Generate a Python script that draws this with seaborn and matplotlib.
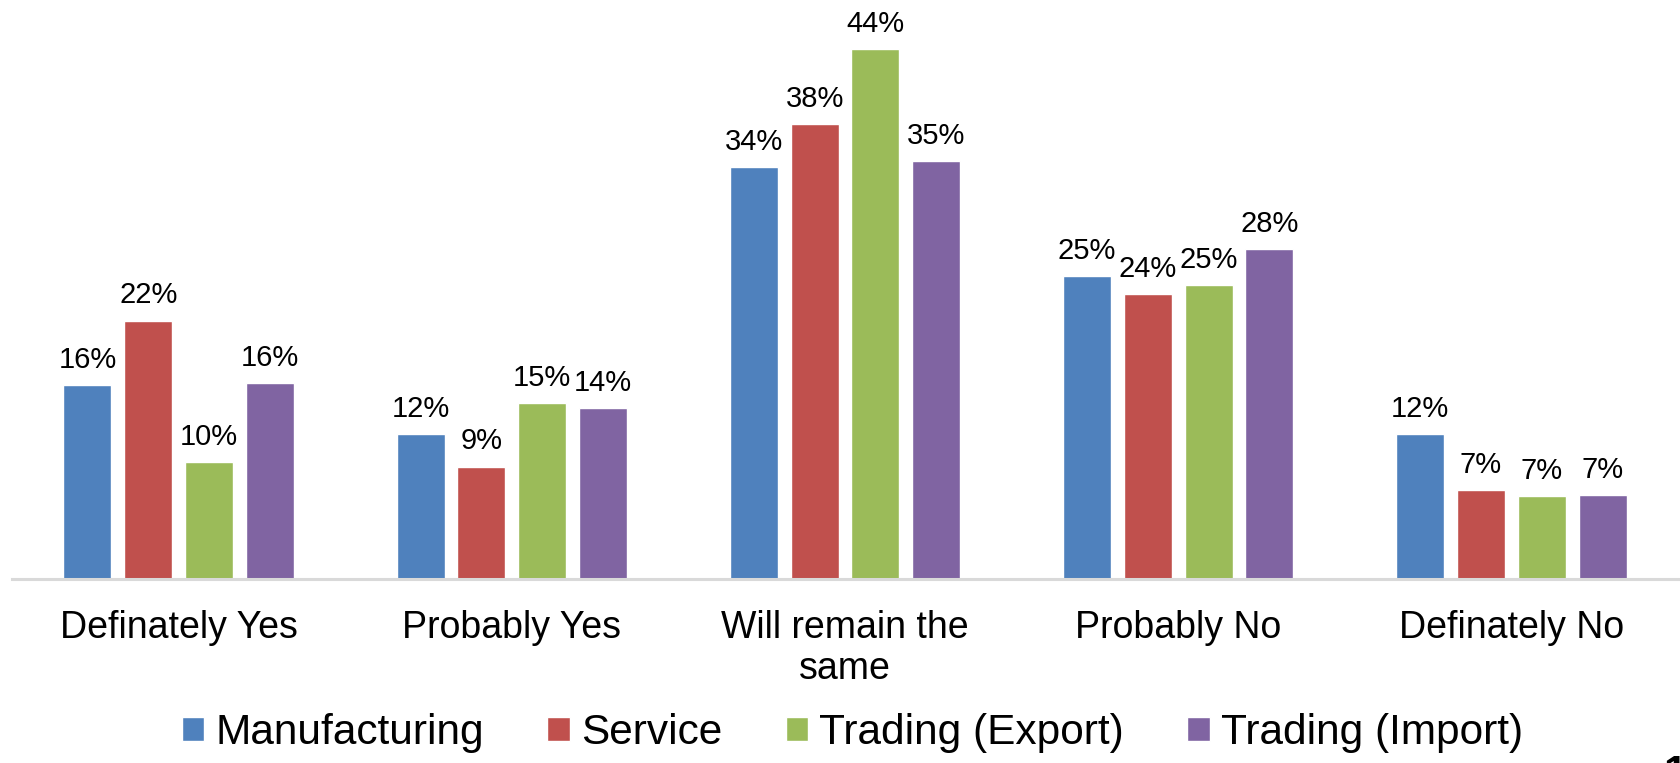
import numpy as np
import pandas as pd
import matplotlib
matplotlib.use("Agg")
import matplotlib.pyplot as plt
import seaborn as sns

# datos del grafico
categorias = ["Definately Yes", "Probably Yes", "Will remain the\nsame", "Probably No", "Definately No"]
sectores = ["Manufacturing", "Service", "Trading (Export)", "Trading (Import)"]
manufacturing = [16.2, 12.1, 34.4, 25.3, 12.1]
service = [21.6, 9.4, 38.0, 23.8, 7.4]
trading_export = [9.8, 14.7, 44.3, 24.6, 6.9]
trading_import = [16.4, 14.3, 34.9, 27.6, 7.0]
colores = ["#4F81BD", "#C0504D", "#9BBB59", "#8064A2"]

series = [manufacturing, service, trading_export, trading_import]
filas = []
for sector, valores in zip(sectores, series):
    for cat, v in zip(categorias, valores):
        filas.append({"Categoria": cat, "Sector": sector, "Valor": v})
df = pd.DataFrame(filas)

sns.set_style("white")
plt.rcParams["font.family"] = ["Liberation Sans", "DejaVu Sans"]
plt.rcParams["text.color"] = "black"
plt.rcParams["xtick.color"] = "black"

W, H = 1681, 763
fig = plt.figure(figsize=(W / 100, H / 100), dpi=100)
base_y = 579
ax = fig.add_axes([12 / W, 1 - base_y / H, (1678 - 12) / W, base_y / H])

sns.barplot(data=df, x="Categoria", y="Valor", hue="Sector", order=categorias,
            hue_order=sectores, palette=colores, width=0.73, gap=0.21,
            saturation=1, ax=ax, errorbar=None)

for cont in ax.containers:
    ax.bar_label(cont, fmt="{:.0f}%", padding=8, fontsize=21, color="black")

# escala: barra de 44.3% mide ~530 px
ax.set_ylim(0, base_y * 44.3 / 530)
ax.set_xlim(-0.5, len(categorias) - 0.5)

ax.set_xlabel("")
ax.set_ylabel("")
ax.set_yticks([])
ax.tick_params(axis="x", length=0, pad=22, labelsize=27, labelcolor="black")
for lbl in ax.get_xticklabels():
    lbl.set_linespacing(1.18)

for s in ["top", "left", "right"]:
    ax.spines[s].set_visible(False)
ax.spines["bottom"].set_color("#D9D9D9")
ax.spines["bottom"].set_linewidth(2.2)

handles, labels = ax.get_legend_handles_labels()
ax.legend(handles, labels, loc="center", bbox_to_anchor=(0.507, 1 - 733 / H),
          bbox_transform=fig.transFigure, ncol=4, frameon=False, fontsize=30.5,
          handlelength=0.53, handleheight=0.53, handletextpad=0.26,
          columnspacing=1.5, borderaxespad=0, labelcolor="black")

# numero de pagina cortado en la esquina inferior derecha
fig.text(1663 / W, 1 - 754 / H, "1", fontsize=30, va="top", ha="left", fontweight="bold")

fig.savefig("out.png", dpi=100)
